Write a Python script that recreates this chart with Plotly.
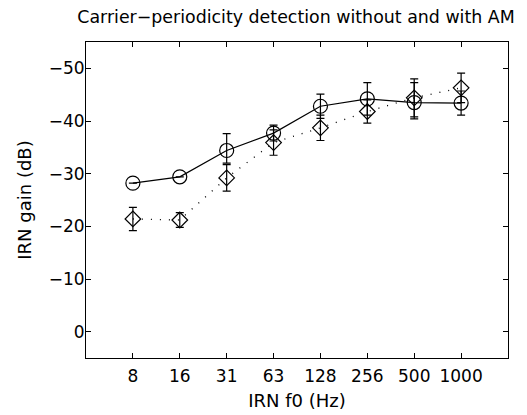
import plotly.graph_objects as go

# Data
categories = ["8", "16", "31", "63", "128", "256", "500", "1000"]
no_am = [-28.2, -29.4, -34.4, -37.7, -42.8, -44.2, -43.5, -43.4]
# error bars at 8 and 16 Hz are hidden by the markers in the original
no_am_err_up = [None, None, 3.2, 1.5, 2.3, 3.1, 3.8, 2.3]
no_am_err_down = [None, None, 2.4, 1.5, 2.3, 3.1, 3.1, 2.3]
with_am = [-21.4, -21.2, -29.2, -35.9, -38.7, -41.8, -44.4, -46.3]
with_am_err = [2.2, 1.4, 2.5, 2.4, 2.4, 2.2, 3.6, 2.8]
y_ticks = [0, -10, -20, -30, -40, -50]

x_pos = list(range(1, len(categories) + 1))

FONT = "DejaVu Sans, Liberation Sans, Arial, sans-serif"

fig = go.Figure()

fig.add_trace(go.Scatter(
    x=x_pos, y=with_am, mode="lines+markers", name="with AM",
    line=dict(color="black", width=1.3, dash="1px,8px"),
    marker=dict(symbol="diamond-open", size=12, color="black", line=dict(width=1.2)),
    error_y=dict(type="data", array=with_am_err, arrayminus=with_am_err,
                 color="black", thickness=1.2, width=4),
))

fig.add_trace(go.Scatter(
    x=x_pos, y=no_am, mode="lines+markers", name="without AM",
    line=dict(color="black", width=1.2),
    marker=dict(symbol="circle-open", size=14, color="black", line=dict(width=1.2)),
    error_y=dict(type="data", array=no_am_err_down, arrayminus=no_am_err_up,
                 symmetric=False, color="black", thickness=1.2, width=4),
))

fig.update_layout(
    width=527, height=415,
    margin=dict(l=78, r=27, t=34, b=65, autoexpand=False),
    paper_bgcolor="white", plot_bgcolor="white",
    showlegend=False,
    font=dict(family=FONT, color="black", size=17),
    title=dict(text="Carrier\u2212periodicity detection without and with AM",
               x=288 / 527, xanchor="center", y=1 - 8.5 / 415, yanchor="middle",
               font=dict(size=17.4, family=FONT)),
)

fig.update_xaxes(
    range=[0, 9], tickmode="array", tickvals=x_pos, ticktext=categories,
    showgrid=False, zeroline=False, showline=True, linecolor="black", linewidth=1,
    mirror="allticks", ticks="inside", ticklen=5, tickcolor="black",
    automargin=False, ticklabelstandoff=3,
    title=dict(text="IRN f0 (Hz)", font=dict(size=18, family=FONT), standoff=8),
    tickfont=dict(size=17, family=FONT),
)
fig.update_yaxes(
    range=[5, -55], tickmode="array", tickvals=y_ticks,
    showgrid=False, zeroline=False, showline=True, linecolor="black", linewidth=1,
    mirror="allticks", ticks="inside", ticklen=5, tickcolor="black",
    automargin=False, ticklabelstandoff=-3,
    title=dict(text="IRN gain (dB)", font=dict(size=18, family=FONT), standoff=12),
    tickfont=dict(size=17, family=FONT),
)

fig.write_html("out.html")
